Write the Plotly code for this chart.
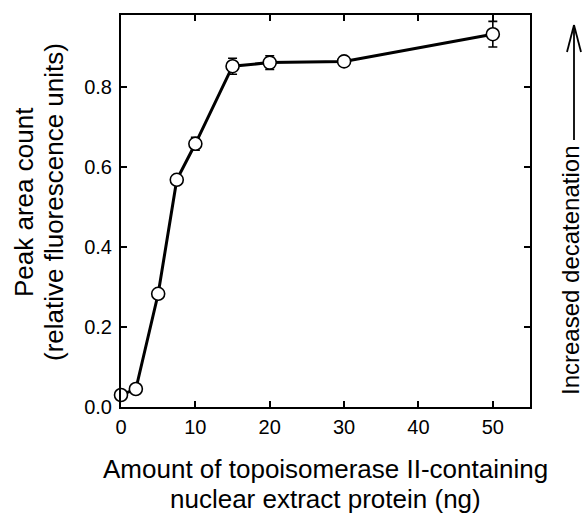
import plotly.graph_objects as go

protein_ng = [0, 2, 5, 7.5, 10, 15, 20, 30, 50]
peak_area = [0.03, 0.045, 0.283, 0.568, 0.658, 0.852, 0.861, 0.864, 0.932]
peak_err = [0.005, 0.005, 0.005, 0.005, 0.016, 0.02, 0.017, 0.005, 0.032]

x_ticks = [0, 10, 20, 30, 40, 50]
y_ticks = [0.0, 0.2, 0.4, 0.6, 0.8]

x_title_lines = ["Amount of topoisomerase II-containing", "nuclear extract protein (ng)"]
y_title_lines = ["Peak area count", "(relative fluorescence units)"]
side_label = "Increased decatenation"

FONT = "Liberation Sans, Arial, sans-serif"
W, H = 584, 515
ML, MR, MT, MB = 121, 54, 15, 108
PW, PH = W - ML - MR, H - MT - MB


def px_to_paper(px, py):
    return (px - ML) / PW, (H - MB - py) / PH


fig = go.Figure()
fig.add_trace(go.Scatter(
    x=protein_ng, y=peak_area,
    mode="lines+markers",
    line=dict(color="black", width=3),
    marker=dict(symbol="circle", size=13, color="white",
                line=dict(color="black", width=1.6)),
    error_y=dict(type="data", array=peak_err, visible=True,
                 color="black", thickness=1.6, width=4.5),
    cliponaxis=False,
    showlegend=False,
))

axis_common = dict(
    showline=True, linecolor="black", linewidth=2, mirror="ticks",
    ticks="inside", ticklen=6, tickwidth=1.5, tickcolor="black",
    showgrid=False, zeroline=False,
    tickfont=dict(family=FONT, size=20, color="black"),
)

fig.update_xaxes(range=[0, 55], tickvals=x_ticks, ticklabelstandoff=1, **axis_common)
fig.update_yaxes(range=[0, 0.98], tickvals=y_ticks, tickformat=".1f",
                 ticklabelstandoff=3, **axis_common)

fig.update_layout(
    width=W, height=H,
    margin=dict(l=ML, r=MR, t=MT, b=MB),
    plot_bgcolor="white", paper_bgcolor="white",
    font=dict(family=FONT, color="black"),
)

# x-axis title (two lines, tight leading)
for i, line in enumerate(x_title_lines):
    fig.add_annotation(
        text=line, xref="paper", yref="paper", x=0.5, y=0,
        xanchor="center", yanchor="middle", yshift=-62 - 30 * i,
        showarrow=False, font=dict(family=FONT, size=26, color="black"),
    )

# y-axis title (two lines, rotated)
for i, line in enumerate(y_title_lines):
    fig.add_annotation(
        text=line, xref="paper", yref="paper", x=0, y=0.5,
        xanchor="center", yanchor="middle", xshift=-97 + 30 * i, yshift=9,
        textangle=-90, showarrow=False,
        font=dict(family=FONT, size=26, color="black"),
    )

# right-side label with arrow
fig.add_annotation(
    text=side_label, xref="paper", yref="paper", x=1, y=0.5,
    xanchor="center", yanchor="middle", xshift=40, yshift=-59,
    textangle=-90, showarrow=False,
    font=dict(family=FONT, size=24, color="black"),
)
tip = px_to_paper(574, 25)
tail = px_to_paper(574, 140)
wl = px_to_paper(567, 52)
wr = px_to_paper(581, 52)
arrow_style = dict(type="line", xref="paper", yref="paper",
                   line=dict(color="black", width=1.8))
fig.add_shape(x0=tail[0], y0=tail[1], x1=tip[0], y1=tip[1], **arrow_style)
fig.add_shape(x0=wl[0], y0=wl[1], x1=tip[0], y1=tip[1], **arrow_style)
fig.add_shape(x0=wr[0], y0=wr[1], x1=tip[0], y1=tip[1], **arrow_style)

fig.write_html(
    "out.html",
    config={"displayModeBar": False, "responsive": False},
    post_script="document.body.style.margin='0';document.body.style.overflow='hidden';",
)
